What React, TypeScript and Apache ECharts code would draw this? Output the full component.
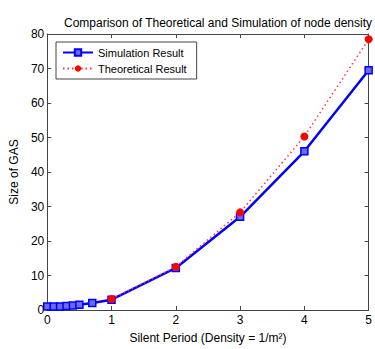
import React, { useEffect, useRef } from "react";
import * as echarts from "echarts";

const simX = [0, 0.1, 0.2, 0.3, 0.4, 0.5, 0.7, 1, 2, 3, 4, 5];
const simY = [1.0, 1.0, 1.05, 1.15, 1.3, 1.5, 2.0, 3.0, 12.2, 27.0, 46.0, 69.5];
const theoX = [1, 2, 3, 4, 5];
const theoY = [3.2, 12.5, 28.3, 50.3, 78.5];

export default function App() {
  const ref = useRef<HTMLDivElement>(null);
  useEffect(() => {
    const chart = echarts.init(ref.current!, null, { renderer: "svg" });
    const font = "Liberation Sans";
    const axisCommon = {
      axisLine: { show: true, onZero: false, lineStyle: { color: "#444", width: 1 } },
      axisTick: { show: true, inside: true, length: 4, lineStyle: { color: "#444" } },
      splitLine: { show: false },
    };
    chart.setOption({
      animation: false,
      backgroundColor: "#fff",
      title: {
        text: "Comparison of Theoretical and Simulation of node density",
        left: 213,
        textAlign: "center",
        top: 12,
        textStyle: { fontFamily: font, fontSize: 12, fontWeight: "normal", color: "#000" },
      },
      legend: {
        orient: "vertical",
        left: 56,
        top: 42,
        padding: [5, 10, 5, 6],
        itemGap: 5,
        itemWidth: 30,
        itemHeight: 8,
        borderColor: "#444",
        borderWidth: 1,
        backgroundColor: "#fff",
        textStyle: { fontFamily: font, fontSize: 11, color: "#000" },
        data: ["Simulation Result", "Theoretical Result"],
      },
      grid: { left: 44, right: 2, top: 34, bottom: 34 },
      xAxis: [
        {
          type: "value",
          min: 0,
          max: 5,
          interval: 1,
          name: "Silent Period (Density = 1/m²)",
          nameLocation: "middle",
          nameGap: 22,
          nameTextStyle: { fontFamily: font, fontSize: 12, color: "#000" },
          axisLabel: { fontFamily: font, fontSize: 12, color: "#000", margin: 4, showMaxLabel: true },
          ...axisCommon,
        },
        {
          type: "value",
          position: "top",
          min: 0,
          max: 5,
          interval: 1,
          axisLabel: { show: false },
          ...axisCommon,
        },
      ],
      yAxis: [
        {
          type: "value",
          min: 0,
          max: 80,
          interval: 10,
          name: "Size of GAS",
          nameLocation: "middle",
          nameGap: 20,
          nameTextStyle: { fontFamily: font, fontSize: 12, color: "#000" },
          axisLabel: { fontFamily: font, fontSize: 12, color: "#000", margin: 3 },
          ...axisCommon,
        },
        {
          type: "value",
          position: "right",
          min: 0,
          max: 80,
          interval: 10,
          axisLabel: { show: false },
          ...axisCommon,
        },
      ],
      series: [
        {
          name: "Simulation Result",
          type: "line",
          data: simX.map((x, i) => [x, simY[i]]),
          symbol: "rect",
          symbolSize: 7,
          lineStyle: { color: "#0000ff", width: 2.5 },
          itemStyle: { color: "#6a6aff", borderColor: "#0000ff", borderWidth: 1.5 },
          z: 2,
        },
        {
          name: "Theoretical Result",
          type: "line",
          data: theoX.map((x, i) => [x, theoY[i]]),
          symbol: "circle",
          symbolSize: 8,
          lineStyle: { color: "#ff3333", width: 1.5, type: [1.5, 3] },
          itemStyle: { color: "#ff0000" },
          z: 3,
        },
      ],
    });
    return () => chart.dispose();
  }, []);
  return (
    <div
      ref={ref}
      style={{ position: "fixed", left: 0, top: 0, width: 375, height: 349 }}
    />
  );
}
